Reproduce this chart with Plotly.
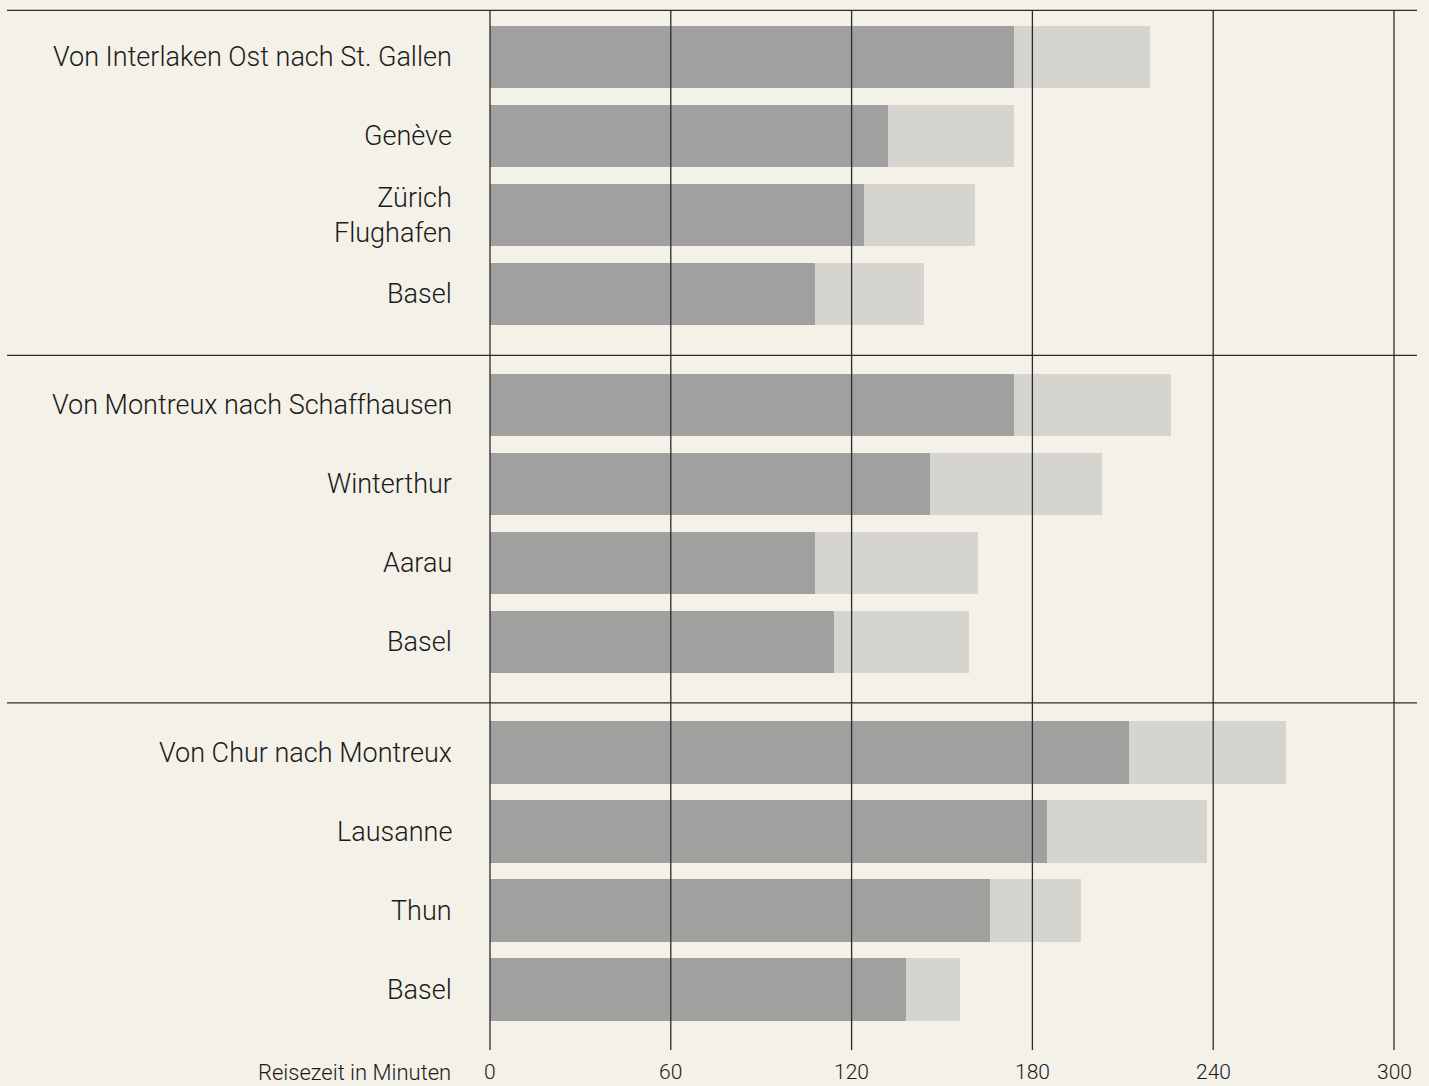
import plotly.graph_objects as go

# ---- data ----
groups = ["Von Interlaken Ost nach St. Gallen", "Von Montreux nach Schaffhausen", "Von Chur nach Montreux"]
labels = [
    "Von Interlaken Ost nach St. Gallen", "Genève", "Zürich<br>Flughafen", "Basel",
    "Von Montreux nach Schaffhausen", "Winterthur", "Aarau", "Basel",
    "Von Chur nach Montreux", "Lausanne", "Thun", "Basel",
]
group_index = [0, 0, 0, 0, 1, 1, 1, 1, 2, 2, 2, 2]
row_in_group = [0, 1, 2, 3, 0, 1, 2, 3, 0, 1, 2, 3]
time_dark = [174, 132, 124, 108, 174, 146, 108, 114, 212, 185, 166, 138]
time_light = [219, 174, 161, 144, 226, 203, 162, 159, 264, 238, 196, 156]
x_ticks = [0, 60, 120, 180, 240, 300]
x_title = "Reisezeit in Minuten"

# ---- layout geometry ----
W, H = 1429, 1086
X0_PX, X300_PX = 490, 1394          # pixel of 0 and 300 minutes
px_per_min = (X300_PX - X0_PX) / 300
x_range = [-X0_PX / px_per_min, (W - X0_PX) / px_per_min]

ROW_PX = 79.0                        # px per y unit
FIRST_ROW_PX = 57.3
GROUP_STEP = 4.4
bar_w = 0.785
y_range = [(H - FIRST_ROW_PX) / ROW_PX, -FIRST_ROW_PX / ROW_PX]

pos = [g * GROUP_STEP + r for g, r in zip(group_index, row_in_group)]

BG = "#f3f1e8"
DARK = "#a0a09e"
LIGHT = "#d5d4cf"
LINE = "#2b2b2b"
TXT = "#1a1a1a"
FONT = "Roboto"

fig = go.Figure()
fig.add_trace(go.Bar(y=pos, x=time_light, orientation="h", width=bar_w,
                     marker=dict(color=LIGHT, line=dict(width=0)), name="light",
                     hoverinfo="x"))
fig.add_trace(go.Bar(y=pos, x=time_dark, orientation="h", width=bar_w,
                     marker=dict(color=DARK, line=dict(width=0)), name="dark",
                     hoverinfo="x"))

shapes = []
top_line = -0.595
bottom_grid = (1050 - FIRST_ROW_PX) / ROW_PX
sep_ys = [top_line] + [g * GROUP_STEP + 3 + 0.772 for g in range(len(groups) - 1)]
for yv in sep_ys:
    shapes.append(dict(type="line", xref="paper", yref="y", x0=7 / W, x1=1417 / W,
                       y0=yv, y1=yv, line=dict(color=LINE, width=1.3), layer="above"))
for t in x_ticks:
    shapes.append(dict(type="line", xref="x", yref="y", x0=t, x1=t,
                       y0=top_line, y1=bottom_grid, line=dict(color=LINE, width=1.3),
                       layer="above"))

annotations = []
label_x = 454 / W
for lab, p in zip(labels, pos):
    annotations.append(dict(text=lab, xref="paper", yref="y", x=label_x, y=p,
                            xanchor="right", yanchor="middle", align="right",
                            showarrow=False,
                            font=dict(family=FONT, size=27, color=TXT, weight=300)))
tick_y = (1072 - FIRST_ROW_PX) / ROW_PX
for t in x_ticks:
    annotations.append(dict(text=str(t), xref="x", yref="y", x=t, y=tick_y,
                            xanchor="center", yanchor="middle", showarrow=False,
                            font=dict(family=FONT, size=21, color=TXT, weight=300)))
annotations.append(dict(text=x_title, xref="paper", yref="y", x=453 / W, y=tick_y,
                        xanchor="right", yanchor="middle", showarrow=False,
                        font=dict(family=FONT, size=22, color=TXT, weight=300)))

fig.update_layout(
    width=W, height=H,
    margin=dict(l=0, r=0, t=0, b=0),
    paper_bgcolor=BG, plot_bgcolor=BG,
    barmode="overlay", bargap=0,
    showlegend=False,
    xaxis=dict(range=x_range, visible=False, showgrid=False, zeroline=False),
    yaxis=dict(range=y_range, visible=False, showgrid=False, zeroline=False),
    shapes=shapes, annotations=annotations,
)

fig.write_html("out.html", config={"displayModeBar": False},
               post_script="document.body.style.margin='0';document.body.style.background='" + BG + "';")
